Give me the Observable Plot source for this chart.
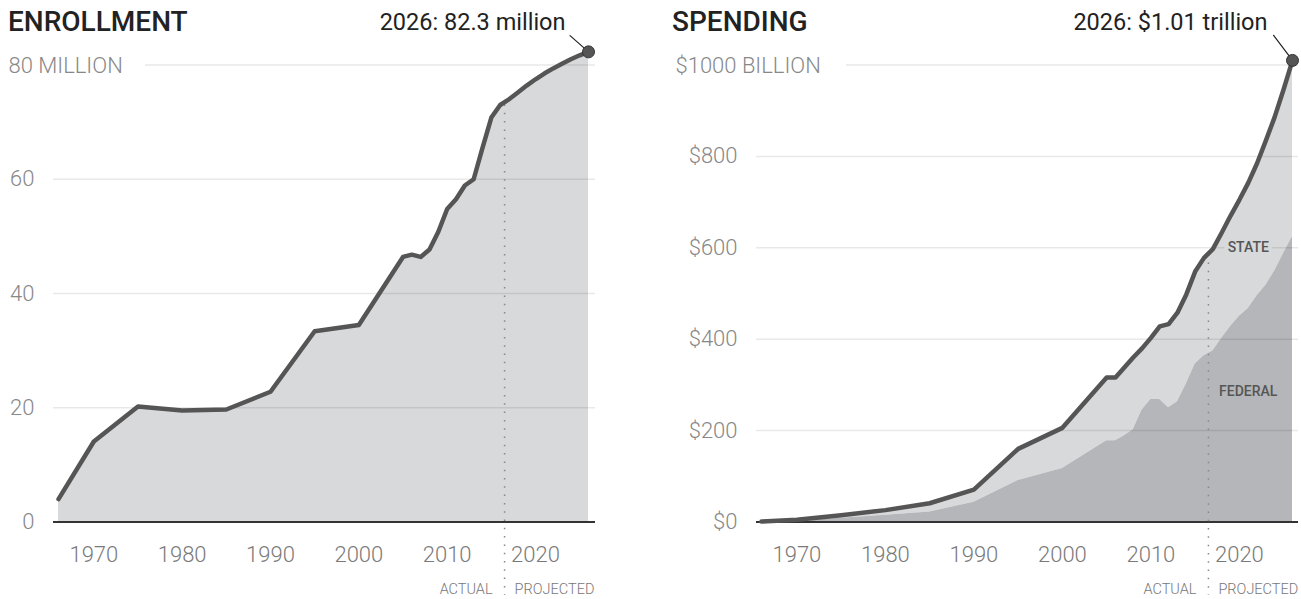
<!DOCTYPE html>
<html>
<head>
<meta charset="utf-8">
<script src="https://cdn.jsdelivr.net/npm/d3@7"></script>
<script src="https://cdn.jsdelivr.net/npm/@observablehq/plot@0.6"></script>
<style>
  html, body { margin: 0; padding: 0; background: #fff; }
  #wrap { position: relative; width: 1301px; height: 599px; overflow: hidden; font-family: Roboto, "Open Sans", sans-serif; }
  .panel { position: absolute; top: 0; }
  .title { position: absolute; top: 8px; font-family: Roboto, sans-serif; font-weight: 500; font-size: 28px; line-height: 28px; color: #222; z-index: 2; }
  svg { overflow: visible; }
</style>
</head>
<body>
<div id="wrap">
  <div class="title" style="left:8px">ENROLLMENT</div>
  <div class="title" style="left:672px">SPENDING</div>
  <div class="panel" id="left" style="left:0px"></div>
  <div class="panel" id="right" style="left:650px"></div>
</div>
<script>
// ---- data ----
const years = [1966, 1970, 1975, 1980, 1985, 1990, 1995, 2000, 2005, 2006, 2007, 2008, 2009, 2010,
  2011, 2012, 2013, 2014, 2015, 2016, 2017, 2018, 2019, 2020, 2021, 2022, 2023, 2024, 2025, 2026];
const enrollmentMillions = [4.0, 14.1, 20.2, 19.5, 19.7, 22.8, 33.4, 34.5, 46.4, 46.8, 46.4, 47.7, 50.8, 54.8,
  56.5, 58.9, 60.0, 65.5, 70.8, 73.0, 74.0, 75.2, 76.4, 77.5, 78.5, 79.4, 80.2, 81.0, 81.7, 82.3];
const spendingTotal = [1.0, 5, 15, 26, 41, 71, 160, 206, 316, 316, 338, 360, 380, 403,
  428, 433, 458, 498, 548, 578, 597, 633, 670, 705, 742, 785, 835, 887, 947, 1010];
const spendingFederal = [0.5, 2.7, 8, 15, 22, 43, 91, 117, 178, 178, 189, 202, 245, 268,
  268, 250, 263, 302, 346, 364, 374, 402, 428, 450, 467, 495, 518, 550, 588, 625];

const xTicks = [1970, 1980, 1990, 2000, 2010, 2020];
const enrollTicks = [0, 20, 40, 60];
const enrollTop = 80;
const enrollTopLabel = "80 MILLION";
const spendTicks = [0, 200, 400, 600, 800];
const spendTop = 1000;
const spendTopLabel = "$1000 BILLION";
const splitYear = 2016.5;          // actual | projected divider
const enrollAtSplit = 73;
const spendAtSplit = 585;
const enrollNote = "2026: 82.3 million";
const spendNote = "2026: $1.01 trillion";
const stateLabel = {year: 2021, value: 600, text: "STATE"};
const federalLabel = {year: 2021, value: 285, text: "FEDERAL"};

// ---- tables ----
const enroll = years.map((year, i) => ({year, value: enrollmentMillions[i]}));
const spend = years.map((year, i) => ({year, total: spendingTotal[i], federal: spendingFederal[i]}));

const lineShape = {draw(context, l) { context.moveTo(0, 0); context.lineTo(0, -l); }};
const gridStyle = {stroke: "#000", strokeOpacity: 0.09, strokeWidth: 1.5};
const tickFont = {fontSize: 22, fontWeight: 300};

function commonMarks(topValue, topLabel, topInset, topDx, splitValue) {
  return [
    Plot.ruleY([topValue], {...gridStyle, insetLeft: topInset}),
    Plot.ruleY([0], {stroke: "#333", strokeWidth: 2}),
    Plot.text([topValue], {y: d => d, text: () => topLabel, frameAnchor: "left", textAnchor: "start", dx: topDx, dy: 1, fill: "#888", ...tickFont}),
    Plot.ruleX([splitYear], {x: d => d, y1: () => splitValue, y2: () => 0, insetBottom: -73.5, stroke: "#888", strokeWidth: 1.5, strokeDasharray: "1.5,6.8"}),
    Plot.axisX({ticks: xTicks, tickFormat: d => String(d), tickSize: 0, tickPadding: 24, color: "#7a7a7a", label: null, ...tickFont}),
    Plot.text([splitYear], {x: d => d, text: () => "ACTUAL", frameAnchor: "bottom", textAnchor: "end", lineAnchor: "bottom", dx: -12, dy: 72, fontSize: 14.5, fontWeight: 300, fill: "#777"}),
    Plot.text([splitYear], {x: d => d, text: () => "PROJECTED", frameAnchor: "bottom", textAnchor: "start", lineAnchor: "bottom", dx: 10, dy: 72, fontSize: 14.5, fontWeight: 300, fill: "#777"})
  ];
}

const left = Plot.plot({
  width: 650, height: 599,
  marginTop: 64.5, marginBottom: 77.5, marginLeft: 53, marginRight: 55,
  x: {domain: [1966, 2026], insetLeft: 5, insetRight: 7},
  y: {domain: [0, enrollTop]},
  style: {fontFamily: "Roboto, sans-serif", background: "transparent", overflow: "visible"},
  marks: [
    Plot.areaY(enroll, {x: "year", y: "value", fill: "#d8d9db"}),
    Plot.ruleY(enrollTicks.filter(d => d > 0), gridStyle),
    Plot.axisY({ticks: enrollTicks, anchor: "left", tickSize: 0, tickPadding: 19, color: "#888", label: null, ...tickFont}),
    ...commonMarks(enrollTop, enrollTopLabel, 92, -45, enrollAtSplit),
    Plot.line(enroll, {x: "year", y: "value", stroke: "#555", strokeWidth: 4.5}),
    Plot.vector(enroll.slice(-1), {x: "year", y: "value", length: 24.6, rotate: -48.6, anchor: "start", shape: lineShape, stroke: "#222", strokeWidth: 1.2}),
    Plot.dot(enroll.slice(-1), {x: "year", y: "value", r: 6, fill: "#555", stroke: "#333", strokeWidth: 1}),
    Plot.text(enroll.slice(-1), {x: "year", y: "value", text: () => enrollNote, textAnchor: "end", lineAnchor: "bottom", dx: -23, dy: -21.5, fontSize: 23.5, fontWeight: 400, fill: "#222"})
  ]
});
document.getElementById("left").append(left);

const right = Plot.plot({
  width: 651, height: 599,
  marginTop: 64.5, marginBottom: 77.5, marginLeft: 106, marginRight: 3,
  x: {domain: [1966, 2026], insetLeft: 5, insetRight: 6},
  y: {domain: [0, spendTop]},
  style: {fontFamily: "Roboto, sans-serif", background: "transparent", overflow: "visible"},
  marks: [
    Plot.areaY(spend, {x: "year", y1: "federal", y2: "total", fill: "#d8d9db"}),
    Plot.areaY(spend, {x: "year", y: "federal", fill: "#b5b6b9"}),
    Plot.ruleY(spendTicks.filter(d => d > 0), gridStyle),
    Plot.axisY({ticks: spendTicks, tickFormat: d => "$" + d, anchor: "left", tickSize: 0, tickPadding: 19, color: "#888", label: null, ...tickFont}),
    ...commonMarks(spendTop, spendTopLabel, 90, -81, spendAtSplit),
    Plot.text([stateLabel], {x: "year", y: "value", text: "text", fill: "#555", stroke: "#d8d9db", strokeWidth: 8, fontSize: 14, fontWeight: 500}),
    Plot.text([federalLabel], {x: "year", y: "value", text: "text", fill: "#555", fontSize: 14, fontWeight: 500}),
    Plot.line(spend, {x: "year", y: "total", stroke: "#555", strokeWidth: 4.5}),
    Plot.vector(spend.slice(-1), {x: "year", y: "total", length: 31.4, rotate: -37, anchor: "start", shape: lineShape, stroke: "#222", strokeWidth: 1.2}),
    Plot.dot(spend.slice(-1), {x: "year", y: "total", r: 6, fill: "#555", stroke: "#333", strokeWidth: 1}),
    Plot.text(spend.slice(-1), {x: "year", y: "total", text: () => spendNote, textAnchor: "end", lineAnchor: "bottom", dx: -25, dy: -30, fontSize: 23.5, fontWeight: 400, fill: "#222"})
  ]
});
document.getElementById("right").append(right);
</script>
</body>
</html>
